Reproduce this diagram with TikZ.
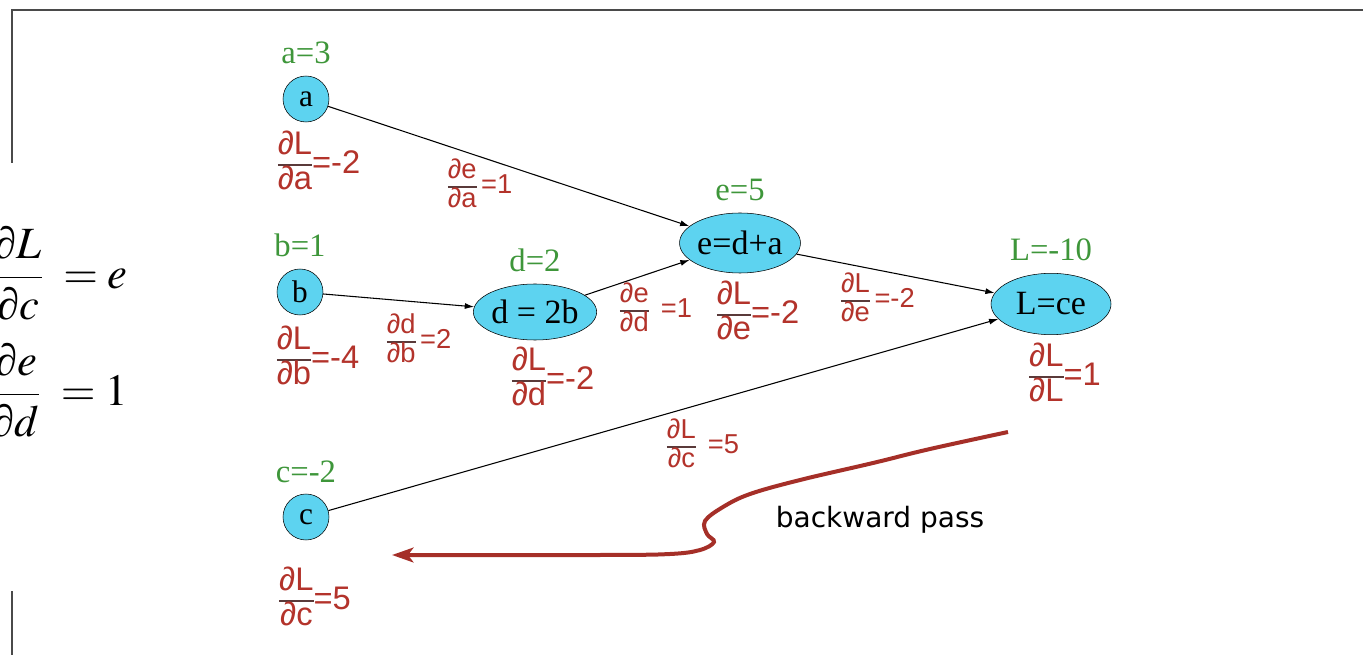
\documentclass[tikz,border=0pt]{standalone}
\usepackage{mathptmx}
\usepackage[no-math]{fontspec}
\setmainfont{Liberation Serif}
\newfontfamily\gradfont{Liberation Sans}
\newfontfamily\notefont{DejaVu Sans}
\usepackage{colortbl}
\usetikzlibrary{shapes.geometric, arrows.meta, positioning}

\definecolor{nodecyan}{HTML}{5DD3F0}
\definecolor{valgreen}{HTML}{3E963A}
\definecolor{gradred}{HTML}{B3332B}
\definecolor{fracbar}{HTML}{5A3A3A}
\definecolor{framegray}{HTML}{4A4A4A}

% fraction used in the gradient labels
\arrayrulecolor{fracbar}
\setlength{\arrayrulewidth}{1.4pt}
\renewcommand{\arraystretch}{0.8}
\newcommand{\pd}[2]{\begin{tabular}{@{}c@{}}∂#1\\\hline ∂#2\end{tabular}}
\newcommand{\pdi}{\mbox{\itshape ∂}}

\tikzset{
    var/.style={circle, draw=black, fill=nodecyan, minimum size=34.5pt, inner sep=0pt, font=\fontsize{23.5}{27}\selectfont},
    op/.style={ellipse, draw=black, fill=nodecyan, inner sep=0pt, font=\fontsize{25.5}{29}\selectfont},
    val/.style={text=valgreen, inner sep=0pt, font=\fontsize{24.5}{28}\selectfont},
    grad/.style={text=gradred, inner sep=0pt, font=\gradfont\fontsize{24.5}{29}\selectfont},
    egrad/.style={text=gradred, inner sep=0pt, font=\gradfont\fontsize{20.5}{24}\selectfont},
    edge/.style={->, line width=0.8pt, black},
    pass/.style={-{Stealth[length=16pt, width=11pt, inset=4pt]}, line width=3pt, gradred!92!black},
    frame/.style={line width=1.5pt, framegray},
    formula/.style={anchor=east, inner sep=0pt, font=\fontsize{33.5}{40}\selectfont},
}

\begin{document}
\begin{tikzpicture}[x=0.75pt, y=-0.75pt, >={Latex[length=7pt, width=4.5pt]}]
    \clip (0,0) rectangle (1363,655);

    % 1. Khung ngoai
    \draw[frame] (12,655) -- (12,591);
    \draw[frame] (12,163) -- (12,10) -- (1363,10);

    % 2. Cong thuc ben trai
    \node[formula] (dLdc) at (128,273) {$\displaystyle\frac{\pdi L}{\pdi c}\;=e$};
    \node[formula] (dedd) at (128,390) {$\displaystyle\frac{\pdi e}{\pdi d}\;=1$};

    % 3. Cac nut
    \node[var] (a) at (306,99) {a};
    \node[var] (b) at (300,292) {b};
    \node[var] (c) at (306,517) {c};
    \node[op, minimum width=87pt, minimum height=42pt] (d) at (535,312) {d = 2b};
    \node[op, minimum width=90pt, minimum height=45pt] (e) at (740,243) {e=d+a};
    \node[op, minimum width=90pt, minimum height=46pt] (L) at (1051,304) {L=ce};

    % 4. Gia tri (mau xanh)
    \node[val, above=9pt of a] (va) {a=3};
    \node[val, above=9pt of b] (vb) {b=1};
    \node[val, above=8pt of c] (vc) {c=-2};
    \node[val, above=9pt of d] (vd) {d=2};
    \node[val, above=9pt of e] (ve) {e=5};
    \node[val, above=9pt of L] (vL) {L=-10};

    % 5. Cac canh
    \foreach \s/\t in {a/e, b/d, d/e, e/L, c/L} {
        \draw[edge] (\s) -- (\t);
    }

    % 6. Dao ham tai cac nut
    \node[grad] (ga) at (319,165) {\pd{L}{a}=-2};
    \node[grad] (gb) at (318,360) {\pd{L}{b}=-4};
    \node[grad] (gc) at (315,601) {\pd{L}{c}=5};
    \node[grad] (gd) at (553,381) {\pd{L}{d}=-2};
    \node[grad] (ge) at (758,315) {\pd{L}{e}=-2};
    \node[grad] (gL) at (1065,377) {\pd{L}{L}=1};

    % 7. Dao ham tren cac canh
    \node[egrad] (lae) at (480,187) {\pd{e}{a}\,=1};
    \node[egrad] (lbd) at (419,342) {\pd{d}{b}\,=2};
    \node[egrad] (lde) at (656,311) {\pd{e}{d}\ \,=1};
    \node[egrad] (leL) at (878,301) {\pd{L}{e}\,=-2};
    \node[egrad] (lcL) at (703,447) {\pd{L}{c}\ \,=5};

    % 8. Mui ten lan truyen nguoc
    \draw[pass] plot[smooth, tension=0.6] coordinates {(1008,432) (930,449) (873,463) (800,480) (750,494) (723,507) (705,521) (707,534) (714,542) (700,550) (670,554) (600,555) (392,555)};
    \node[font=\notefont\fontsize{21}{25}\selectfont, inner sep=0pt] (passtext) at (880,520) {backward pass};
\end{tikzpicture}
\end{document}
